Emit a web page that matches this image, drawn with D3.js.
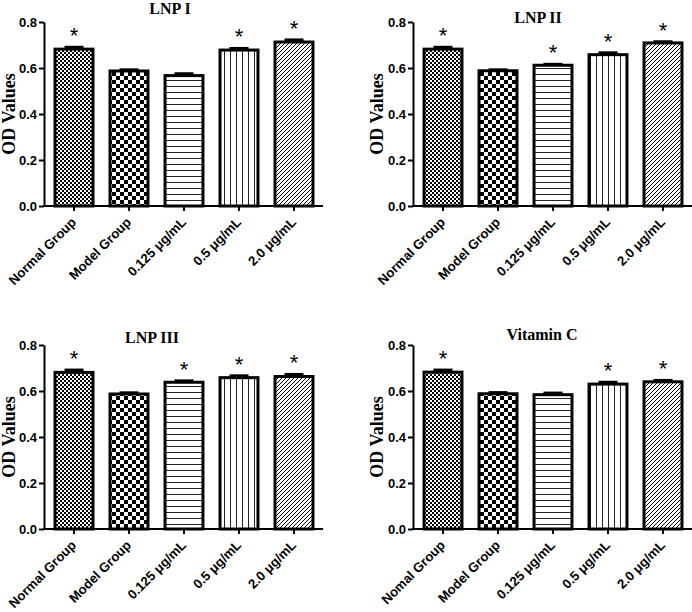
<!DOCTYPE html>
<html><head><meta charset="utf-8">
<script src="https://cdn.jsdelivr.net/npm/d3@7"></script>
<style>body{margin:0;background:#fff} svg{display:block}</style>
</head><body>
<svg id="chart" width="692" height="612"></svg>
<script>
// ---- data ----
const categories = ["Normal Group", "Model Group", "0.125 μg/mL", "0.5 μg/mL", "2.0 μg/mL"];
const categoriesVitC = ["Nomal Group", "Model Group", "0.125 μg/mL", "0.5 μg/mL", "2.0 μg/mL"];
const panelTitles = ["LNP I", "LNP II", "LNP III", "Vitamin C"];
const yTicks = [0.0, 0.2, 0.4, 0.6, 0.8];
const yLabel = "OD Values";

const lnp1Values = [0.682, 0.587, 0.567, 0.678, 0.713];
const lnp1Errors = [0.008, 0.005, 0.008, 0.007, 0.009];
const lnp1Sig = [true, false, false, true, true];

const lnp2Values = [0.682, 0.588, 0.612, 0.658, 0.709];
const lnp2Errors = [0.008, 0.004, 0.004, 0.008, 0.005];
const lnp2Sig = [true, false, true, true, true];

const lnp3Values = [0.681, 0.587, 0.638, 0.658, 0.663];
const lnp3Errors = [0.010, 0.005, 0.006, 0.008, 0.009];
const lnp3Sig = [true, false, true, true, true];

const vitcValues = [0.682, 0.588, 0.584, 0.630, 0.640];
const vitcErrors = [0.009, 0.005, 0.007, 0.008, 0.006];
const vitcSig = [true, false, false, true, true];

// ---- layout ----
const panels = [
  {title: panelTitles[0], cats: categories, vals: lnp1Values, errs: lnp1Errors, sig: lnp1Sig,
   ax: 44, y0: 206, y8: 22, tx: 170, ty: 14, lx: 15, ly: 114},
  {title: panelTitles[1], cats: categories, vals: lnp2Values, errs: lnp2Errors, sig: lnp2Sig,
   ax: 413, y0: 206, y8: 22, tx: 538, ty: 23, lx: 383, ly: 114},
  {title: panelTitles[2], cats: categories, vals: lnp3Values, errs: lnp3Errors, sig: lnp3Sig,
   ax: 44, y0: 529, y8: 345, tx: 152, ty: 343, lx: 15, ly: 437},
  {title: panelTitles[3], cats: categoriesVitC, vals: vitcValues, errs: vitcErrors, sig: vitcSig,
   ax: 413, y0: 529, y8: 345, tx: 542, ty: 340, lx: 383, ly: 437}
];

const svg = d3.select("#chart");
const defs = svg.append("defs");

// patterns
function pat(id, w, h) {
  const p = defs.append("pattern").attr("id", id).attr("patternUnits", "userSpaceOnUse")
    .attr("width", w).attr("height", h);
  p.append("rect").attr("width", w).attr("height", h).attr("fill", "#fff");
  return p;
}
let p = pat("pat0", 4, 4);
p.append("rect").attr("x", 0).attr("y", 0).attr("width", 2).attr("height", 2).attr("fill", "#000");
p.append("rect").attr("x", 2).attr("y", 2).attr("width", 2).attr("height", 2).attr("fill", "#000");
p = pat("pat1", 8, 8);
p.append("rect").attr("x", 0).attr("y", 0).attr("width", 4).attr("height", 4).attr("fill", "#000");
p.append("rect").attr("x", 4).attr("y", 4).attr("width", 4).attr("height", 4).attr("fill", "#000");
p = pat("pat2", 6, 6);
p.append("rect").attr("x", 0).attr("y", 2).attr("width", 6).attr("height", 1).attr("fill", "#222");
p = pat("pat3", 6, 6);
p.append("rect").attr("x", 2).attr("y", 0).attr("width", 1).attr("height", 6).attr("fill", "#222");
p = pat("pat4", 4, 4);
p.append("path").attr("d", "M0,4L4,0M-1,1L1,-1M3,5L5,3").attr("stroke", "#000").attr("stroke-width", 1);

const sansFont = "'Liberation Sans', Arial, sans-serif";
const serifFont = "'Liberation Serif', 'Times New Roman', serif";

panels.forEach(pn => {
  const g = svg.append("g");
  const y = d3.scaleLinear().domain([0, 0.8]).range([pn.y0, pn.y8]);
  const x = d3.scaleBand().domain(pn.cats).range([pn.ax + 2.5, pn.ax + 277.5])
    .paddingInner(0.31).paddingOuter(0.155);
  const bw = x.bandwidth();

  // bars
  g.selectAll("rect.bar").data(pn.cats).join("rect").attr("class", "bar")
    .attr("x", d => x(d)).attr("width", bw)
    .attr("y", (d, i) => y(pn.vals[i])).attr("height", (d, i) => pn.y0 - y(pn.vals[i]))
    .attr("fill", (d, i) => `url(#pat${i})`).attr("stroke", "#000").attr("stroke-width", 3);

  // error bars (upper only)
  g.selectAll("line.err").data(pn.cats).join("line").attr("class", "err")
    .attr("x1", d => x(d) + bw / 2).attr("x2", d => x(d) + bw / 2)
    .attr("y1", (d, i) => y(pn.vals[i])).attr("y2", (d, i) => y(pn.vals[i] + pn.errs[i]))
    .attr("stroke", "#000").attr("stroke-width", 3);
  g.selectAll("line.cap").data(pn.cats).join("line").attr("class", "cap")
    .attr("x1", d => x(d) + bw / 2 - 9.5).attr("x2", d => x(d) + bw / 2 + 9.5)
    .attr("y1", (d, i) => y(pn.vals[i] + pn.errs[i])).attr("y2", (d, i) => y(pn.vals[i] + pn.errs[i]))
    .attr("stroke", "#000").attr("stroke-width", 3);

  // significance
  g.selectAll("text.sig").data(pn.cats.filter((d, i) => pn.sig[i])).join("text").attr("class", "sig")
    .attr("x", d => x(d) + bw / 2)
    .attr("y", d => { const i = pn.cats.indexOf(d); return y(pn.vals[i] + pn.errs[i]) - 4; })
    .attr("text-anchor", "middle").attr("font-family", sansFont).attr("font-size", 22)
    .attr("fill", "#000").text("*");

  // y axis
  const ya = g.append("g").attr("transform", `translate(${pn.ax},0)`)
    .call(d3.axisLeft(y).tickValues(yTicks).tickFormat(d3.format(".1f")).tickSize(5).tickSizeOuter(0));
  ya.select(".domain").attr("stroke-width", 2);
  ya.selectAll(".tick line").attr("stroke-width", 2);
  ya.selectAll(".tick text").attr("font-family", sansFont).attr("font-weight", "bold")
    .attr("font-size", 13).attr("fill", "#000").attr("x", -7);

  // x axis
  const xa = g.append("g").attr("transform", `translate(0,${pn.y0})`)
    .call(d3.axisBottom(x).tickSize(5).tickSizeOuter(0));
  xa.select(".domain").remove();
  xa.append("line").attr("x1", pn.ax - 1).attr("x2", pn.ax + 279).attr("y1", 0).attr("y2", 0)
    .attr("stroke", "#000").attr("stroke-width", 2);
  xa.selectAll(".tick line").attr("stroke-width", 2);
  xa.selectAll(".tick text").attr("font-family", sansFont).attr("font-weight", "bold")
    .attr("font-size", 13.2).attr("fill", "#000")
    .attr("text-anchor", "end").attr("y", 0).attr("dy", 0)
    .attr("transform", "translate(3,17) rotate(-45)");

  // title
  g.append("text").attr("x", pn.tx).attr("y", pn.ty).attr("text-anchor", "middle")
    .attr("font-family", serifFont).attr("font-weight", "bold").attr("font-size", 16)
    .attr("fill", "#000").text(pn.title);
  // y label
  g.append("text").attr("transform", `translate(${pn.lx},${pn.ly}) rotate(-90)`)
    .attr("text-anchor", "middle").attr("font-family", serifFont).attr("font-weight", "bold")
    .attr("font-size", 18).attr("fill", "#000").text(yLabel);
});
</script>
</body></html>
